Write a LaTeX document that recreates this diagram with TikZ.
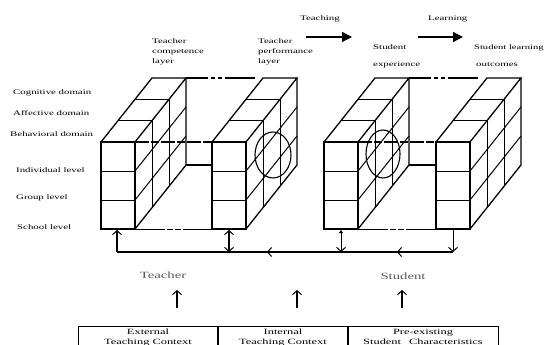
\documentclass[tikz,border=0pt]{standalone}
\usepackage{fontspec}
\setmainfont[FakeStretch=1.55]{Liberation Serif}
\usetikzlibrary{arrows.meta,decorations.markings}
\begin{document}
\begin{tikzpicture}[x=1pt,y=-1pt,
  lab/.style={font=\fontsize{7}{10}\selectfont, anchor=base west, inner sep=0},
  midlab/.style={font=\fontsize{9.5}{10}\selectfont, anchor=base, inner sep=0, text=black!65},
  boxlab/.style={font=\fontsize{8}{10}\selectfont, anchor=base, inner sep=0},
  edge/.style={line width=1.3pt},
  gridl/.style={line width=1pt},
  link/.style={line width=1.4pt},
  vbarb/.style={-{Straight Barb[length=4pt,width=9pt,line width=1pt]}},
  slab/.pic={
    \draw[gridl] (0,29) -- (34,29) (0,58) -- (34,58);
    \draw[gridl] (17,-21.33) -- (51,-21.33) (34,-42.67) -- (68,-42.67);
    \draw[gridl] (51,-21.33) -- (51,65.67) (68,-42.67) -- (68,44.33);
    \draw[gridl] (34,29) -- (85,-35) (34,58) -- (85,-6);
    \draw[edge] (0,0) rectangle (34,87);
    \draw[edge] (0,0) -- (51,-64) -- (85,-64) -- (34,0);
    \draw[edge] (85,-64) -- (85,23) -- (34,87);
  }]
\useasboundingbox (0,0) rectangle (547,345);
\clip (0,0) rectangle (547,345);

% top labels
\node[lab] (tch) at (300,21) {Teaching};
\node[lab] (lrn) at (428,21) {Learning};
\coordinate (ta1) at (306,37); \coordinate (ta2) at (352,37);
\coordinate (la1) at (418,37); \coordinate (la2) at (463,37);
\draw[line width=1.2pt,-{Triangle[length=10pt,width=10pt]}] (ta1) -- (ta2);
\draw[line width=1.2pt,-{Triangle[length=10pt,width=10pt]}] (la1) -- (la2);

\node[lab] (tc1) at (152,44) {Teacher};
\node[lab] (tc2) at (152,54) {competence};
\node[lab] (tc3) at (152,64) {layer};
\node[lab] (tp1) at (258,44) {Teacher};
\node[lab] (tp2) at (258,54) {performance};
\node[lab] (tp3) at (258,64) {layer};
\node[lab] (se1) at (373,50) {Student};
\node[lab] (se2) at (373,67) {experience};
\node[lab, font=\fontsize{6.8}{10}\selectfont] (so1) at (474,50) {Student learning};
\node[lab] (so2) at (476,67) {outcomes};

% left labels
\node[lab] (d1) at (13,95) {Cognitive domain};
\node[lab] (d2) at (13,116) {Affective domain};
\node[lab] (d3) at (10,136) {Behavioral domain};
\node[lab] (l1) at (16,172) {Individual level};
\node[lab] (l2) at (16,200) {Group level};
\node[lab] (l3) at (17,229) {School level};

% links between cube pairs
\foreach \a/\b in {101/212, 324/436}{
  \draw[link, dash pattern=on 22pt off 3pt on 4pt off 3pt on 4pt off 3pt on 30pt] (\a+85,78) -- (\b+51,78);
  \draw[link, dash pattern=on 14pt off 2pt on 8pt off 2pt] (\a+34,142) -- (\b,142);
  \draw[link] (\a+85,165) -- (\b,165);
  \draw[gridl, dash pattern=on 30pt off 2pt on 6pt off 2pt on 6pt off 2pt on 40pt] (\a+34,229) -- (\b,229);
}

% cubes
\pic (c1) at (101,142) {slab};
\pic (c2) at (212,142) {slab};
\pic (c3) at (324,142) {slab};
\pic (c4) at (436,142) {slab};

% circles
\draw[line width=1.1pt] (273,155) ellipse [x radius=18pt, y radius=23pt];
\draw[line width=1.1pt] (383,154) ellipse [x radius=17pt, y radius=24pt];

% feedback arrows
\coordinate (b1) at (117,252); \coordinate (t1) at (117,230);
\coordinate (b2) at (229,252); \coordinate (t2) at (229,230);
\coordinate (b3) at (341,252); \coordinate (t3) at (341,230);
\coordinate (b4) at (453,252); \coordinate (t4) at (453,229);
\draw[line width=1.3pt, postaction={decorate}, decoration={markings,
  mark=at position 0.167 with {\arrow{Straight Barb[length=4pt,width=9pt,line width=1pt]}},
  mark=at position 0.554 with {\arrow{Straight Barb[length=4pt,width=9pt,line width=1pt]}}}]
  (b4) -- (b1);
\draw[line width=1.1pt, vbarb] (b1) -- (t1);
\draw[line width=2pt, {Straight Barb[length=4pt,width=9pt,line width=1pt]}-{Straight Barb[length=4pt,width=9pt,line width=1pt]}] (b2) -- (t2);
\draw[line width=0.8pt, {Straight Barb[length=4pt,width=9pt,line width=1pt]}-{Triangle[length=3pt,width=4pt]}] (b3) -- (t3);
\draw[line width=1pt, vbarb] (t4) -- (b4);

% Teacher / Student
\node[midlab] (tea) at (163,278) {Teacher};
\node[midlab] (stu) at (403,279) {Student};
\coordinate (u1a) at (177,308); \coordinate (u1b) at (177,290);
\coordinate (u2a) at (297,308); \coordinate (u2b) at (297,290);
\coordinate (u3a) at (402,308); \coordinate (u3b) at (402,290);
\draw[line width=1.3pt, vbarb] (u1a) -- (u1b);
\draw[line width=1.3pt, vbarb] (u2a) -- (u2b);
\draw[line width=1.3pt, vbarb] (u3a) -- (u3b);

% bottom boxes
\draw[line width=0.9pt] (78,360) -- (78,326) -- (498,326) -- (498,360);
\draw[line width=1.6pt] (218,326) -- (218,360) (348,326) -- (348,360);
\node[boxlab] (e1) at (148,334) {External};
\node[boxlab] (e2) at (148,344) {Teaching Context};
\node[boxlab] (i1) at (283,334) {Internal};
\node[boxlab] (i2) at (283,344) {Teaching Context};
\node[boxlab] (p1) at (423,334) {Pre-existing};
\node[boxlab] (p2) at (423,344) {Student\quad Characteristics};
\end{tikzpicture}
\end{document}
